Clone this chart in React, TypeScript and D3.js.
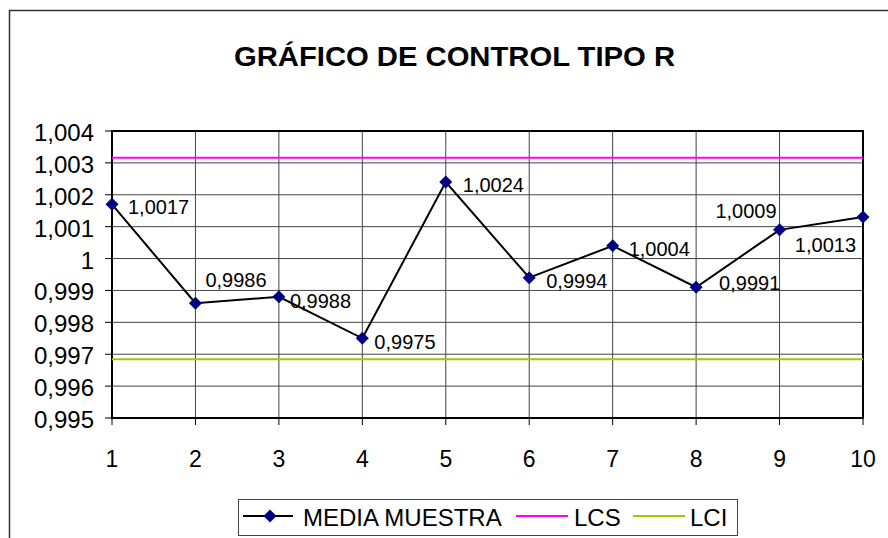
import React from "react";
import * as d3 from "d3";

const categories = [1, 2, 3, 4, 5, 6, 7, 8, 9, 10];
const mediaMuestra = [1.0017, 0.9986, 0.9988, 0.9975, 1.0024, 0.9994, 1.0004, 0.9991, 1.0009, 1.0013];
const lcsValue = 1.00316;
const lciValue = 0.99684;
const yTicks = [0.995, 0.996, 0.997, 0.998, 0.999, 1.0, 1.001, 1.002, 1.003, 1.004];
const yTickLabels = ["0,995", "0,996", "0,997", "0,998", "0,999", "1", "1,001", "1,002", "1,003", "1,004"];
const pointLabels = ["1,0017", "0,9986", "0,9988", "0,9975", "1,0024", "0,9994", "1,0004", "0,9991", "1,0009", "1,0013"];
// label placement relative to point: [dx, dy, anchor]
const labelPlacement: [number, number, string][] = [
  [16, 10, "start"],
  [10, -16, "start"],
  [11, 11, "start"],
  [12, 11, "start"],
  [17, 10, "start"],
  [17, 10, "start"],
  [16, 10, "start"],
  [23, 3, "start"],
  [-3, -12, "end"],
  [-7, 35, "end"],
];

const W = 888;
const H = 538;
const plot = { left: 112, right: 863, top: 131, bottom: 418 };
const FONT = "'Liberation Sans', Arial, sans-serif";
const MAGENTA = "#FF00FF";
const GREEN = "#99CC00";
const NAVY = "#000080";

export default function App() {
  const x = d3.scaleLinear().domain([1, 10]).range([plot.left, plot.right]);
  const y = d3.scaleLinear().domain([0.995, 1.004]).range([plot.bottom, plot.top]);
  const line = d3
    .line<number>()
    .x((_, i) => x(categories[i]))
    .y((d) => y(d));
  const diamond = (cx: number, cy: number, r: number) =>
    `M${cx},${cy - r}L${cx + r},${cy}L${cx},${cy + r}L${cx - r},${cy}Z`;

  return (
    <svg
      width={W}
      height={H}
      style={{ position: "absolute", left: 0, top: 0, display: "block", background: "#fff" }}
      fontFamily={FONT}
    >
      {/* outer chart border */}
      <rect x={9.5} y={10.5} width={W + 20} height={H + 20} fill="#fff" stroke="#333" strokeWidth={1.5} />

      {/* title */}
      <text
        x={454.5}
        y={66}
        textAnchor="middle"
        fontSize={28}
        fontWeight="bold"
        textLength={441}
        lengthAdjust="spacingAndGlyphs"
      >
        GRÁFICO DE CONTROL TIPO R
      </text>

      {/* horizontal gridlines */}
      {yTicks.map((t, i) => (
        <line key={"hg" + i} x1={plot.left} x2={plot.right} y1={y(t)} y2={y(t)} stroke="#444" strokeWidth={1} />
      ))}
      {/* vertical gridlines */}
      {categories.map((c, i) => (
        <line key={"vg" + i} x1={x(c)} x2={x(c)} y1={plot.top} y2={plot.bottom} stroke="#444" strokeWidth={1} />
      ))}

      {/* plot border */}
      <rect
        x={plot.left}
        y={plot.top}
        width={plot.right - plot.left}
        height={plot.bottom - plot.top}
        fill="none"
        stroke="#000"
        strokeWidth={2}
      />

      {/* y ticks */}
      {yTicks.map((t, i) => (
        <g key={"yt" + i}>
          <line x1={plot.left - 7} x2={plot.left} y1={y(t)} y2={y(t)} stroke="#000" strokeWidth={1} />
          <text x={94} y={y(t) + 10} textAnchor="end" fontSize={24}>
            {yTickLabels[i]}
          </text>
        </g>
      ))}

      {/* x ticks */}
      {categories.map((c, i) => (
        <g key={"xt" + i}>
          <line x1={x(c)} x2={x(c)} y1={plot.bottom} y2={plot.bottom + 7} stroke="#000" strokeWidth={1} />
          <text x={x(c)} y={467} textAnchor="middle" fontSize={23}>
            {String(c)}
          </text>
        </g>
      ))}

      {/* control limits */}
      <line x1={plot.left} x2={plot.right} y1={y(lcsValue)} y2={y(lcsValue)} stroke={MAGENTA} strokeWidth={2} />
      <line x1={plot.left} x2={plot.right} y1={y(lciValue)} y2={y(lciValue)} stroke={GREEN} strokeWidth={2} />

      {/* series line */}
      <path d={line(mediaMuestra) || ""} fill="none" stroke="#000" strokeWidth={2} />
      {mediaMuestra.map((v, i) => (
        <path key={"m" + i} d={diamond(x(categories[i]), y(v), 6.5)} fill={NAVY} />
      ))}

      {/* data labels */}
      {mediaMuestra.map((v, i) => (
        <text
          key={"l" + i}
          x={x(categories[i]) + labelPlacement[i][0]}
          y={y(v) + labelPlacement[i][1]}
          textAnchor={labelPlacement[i][2] as any}
          fontSize={20}
        >
          {pointLabels[i]}
        </text>
      ))}

      {/* legend */}
      <rect x={238.5} y={499.5} width={499} height={36} fill="#fff" stroke="#444" strokeWidth={1} />
      <line x1={243} x2={293} y1={516} y2={516} stroke="#000" strokeWidth={2} />
      <path d={diamond(270, 516, 6.5)} fill={NAVY} />
      <text x={303} y={526} fontSize={24}>
        MEDIA MUESTRA
      </text>
      <line x1={516} x2={568} y1={516} y2={516} stroke={MAGENTA} strokeWidth={2} />
      <text x={574} y={526} fontSize={24}>
        LCS
      </text>
      <line x1={633} x2={685} y1={516} y2={516} stroke={GREEN} strokeWidth={2} />
      <text x={690} y={526} fontSize={24}>
        LCI
      </text>
    </svg>
  );
}
